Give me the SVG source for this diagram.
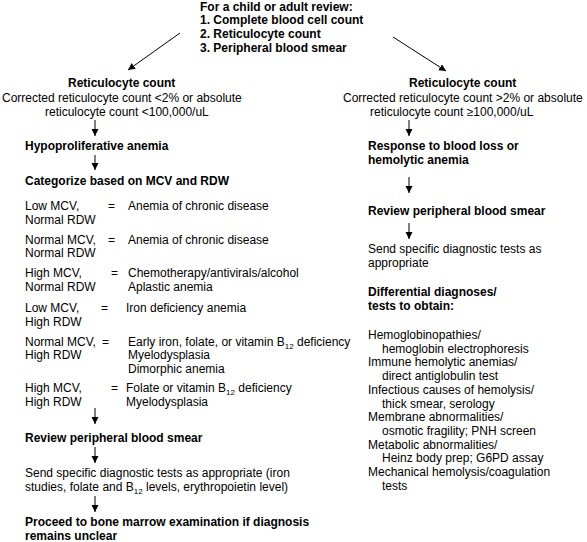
<svg xmlns="http://www.w3.org/2000/svg" width="587" height="542" viewBox="0 0 587 542">
<style>
text{font-family:"Liberation Sans",Arial,Helvetica,sans-serif;font-size:12px;fill:#000}
.b{font-weight:bold}
.c line{stroke:#000;stroke-width:1;fill:none}
.s{font-size:8px}
</style>
<defs>
<marker id="ah" markerUnits="userSpaceOnUse" markerWidth="8" markerHeight="8" refX="7" refY="3.5" orient="auto">
<path d="M0,0 L7,3.5 L0,7 z" fill="#000"/>
</marker>
</defs>
<rect width="587" height="542" fill="#fff"/>
<g id="start">
<text class="b" x="200" y="10.5">For a child or adult review:</text>
<text class="b" x="200" y="24.2">1. Complete blood cell count</text>
<text class="b" x="200" y="37.9">2. Reticulocyte count</text>
<text class="b" x="200" y="51.6">3. Peripheral blood smear</text>
</g>
<g class="c" id="connectors">
<line x1="180" y1="33" x2="128" y2="70" marker-end="url(#ah)"/>
<line x1="393" y1="37" x2="446" y2="71" marker-end="url(#ah)"/>
<line x1="95" y1="120" x2="95" y2="136" marker-end="url(#ah)"/>
<line x1="95" y1="155" x2="95" y2="170" marker-end="url(#ah)"/>
<line x1="95" y1="408" x2="95" y2="424" marker-end="url(#ah)"/>
<line x1="95" y1="447" x2="95" y2="463" marker-end="url(#ah)"/>
<line x1="95" y1="496" x2="95" y2="512" marker-end="url(#ah)"/>
<line x1="409" y1="120" x2="409" y2="136" marker-end="url(#ah)"/>
<line x1="409" y1="177" x2="409" y2="193" marker-end="url(#ah)"/>
<line x1="409" y1="223" x2="409" y2="239" marker-end="url(#ah)"/>
</g>
<g id="retic-low">
<text class="b" x="68" y="87">Reticulocyte count</text>
<text x="2" y="101.5">Corrected reticulocyte count &lt;2% or absolute</text>
<text x="45" y="116">reticulocyte count &lt;100,000/uL</text>
</g>
<g id="hypoproliferative">
<text class="b" x="25" y="150">Hypoproliferative anemia</text>
</g>
<g id="categorize">
<text class="b" x="25" y="185">Categorize based on MCV and RDW</text>
<text x="25" y="210">Low MCV,</text><text x="25" y="223.7">Normal RDW</text>
<text x="108" y="210">=</text><text x="128" y="210">Anemia of chronic disease</text>
<text x="25" y="243.5">Normal MCV,</text><text x="25" y="257.2">Normal RDW</text>
<text x="108" y="243.5">=</text><text x="128" y="243.5">Anemia of chronic disease</text>
<text x="25" y="277">High MCV,</text><text x="25" y="290.7">Normal RDW</text>
<text x="111" y="277">=</text><text x="128" y="277">Chemotherapy/antivirals/alcohol</text><text x="128" y="290.7">Aplastic anemia</text>
<text x="25" y="312">Low MCV,</text><text x="25" y="325.7">High RDW</text>
<text x="101" y="312">=</text><text x="126" y="312">Iron deficiency anemia</text>
<text x="25" y="345.5">Normal MCV,</text><text x="25" y="359.2">High RDW</text>
<text x="102" y="345.5">=</text><text x="128" y="345.5">Early iron, folate, or vitamin B<tspan class="s" dy="3">12</tspan><tspan dy="-3"> deficiency</tspan></text>
<text x="128" y="359.2">Myelodysplasia</text><text x="128" y="372.9">Dimorphic anemia</text>
<text x="25" y="392">High MCV,</text><text x="25" y="405.7">High RDW</text>
<text x="111" y="392">=</text><text x="126" y="392">Folate or vitamin B<tspan class="s" dy="3">12</tspan><tspan dy="-3"> deficiency</tspan></text>
<text x="126" y="405.7">Myelodysplasia</text>
</g>
<g id="review-left">
<text class="b" x="25" y="442">Review peripheral blood smear</text>
</g>
<g id="tests-left">
<text x="25" y="477">Send specific diagnostic tests as appropriate (iron</text>
<text x="25" y="491">studies, folate and B<tspan class="s" dy="3">12</tspan><tspan dy="-3"> levels, erythropoietin level)</tspan></text>
</g>
<g id="bone-marrow">
<text class="b" x="25" y="526">Proceed to bone marrow examination if diagnosis</text>
<text class="b" x="25" y="540">remains unclear</text>
</g>
<g id="retic-high">
<text class="b" x="409" y="87">Reticulocyte count</text>
<text x="343" y="101.5">Corrected reticulocyte count &gt;2% or absolute</text>
<text x="370" y="116">reticulocyte count ≥100,000/uL</text>
</g>
<g id="response">
<text class="b" x="368" y="150">Response to blood loss or</text>
<text class="b" x="368" y="164">hemolytic anemia</text>
</g>
<g id="review-right">
<text class="b" x="368" y="215">Review peripheral blood smear</text>
</g>
<g id="tests-right">
<text x="368" y="253">Send specific diagnostic tests as</text>
<text x="368" y="267">appropriate</text>
</g>
<g id="differential">
<text class="b" x="368" y="296">Differential diagnoses/</text>
<text class="b" x="368" y="309.5">tests to obtain:</text>
<text x="368" y="339">Hemoglobinopathies/</text>
<text x="382" y="352.7">hemoglobin electrophoresis</text>
<text x="368" y="366.4">Immune hemolytic anemias/</text>
<text x="382" y="380.1">direct antiglobulin test</text>
<text x="368" y="393.8">Infectious causes of hemolysis/</text>
<text x="382" y="407.5">thick smear, serology</text>
<text x="368" y="421.2">Membrane abnormalities/</text>
<text x="382" y="434.9">osmotic fragility; PNH screen</text>
<text x="368" y="448.6">Metabolic abnormalities/</text>
<text x="382" y="462.3">Heinz body prep; G6PD assay</text>
<text x="368" y="476">Mechanical hemolysis/coagulation</text>
<text x="382" y="489.7">tests</text>
</g>
</svg>
